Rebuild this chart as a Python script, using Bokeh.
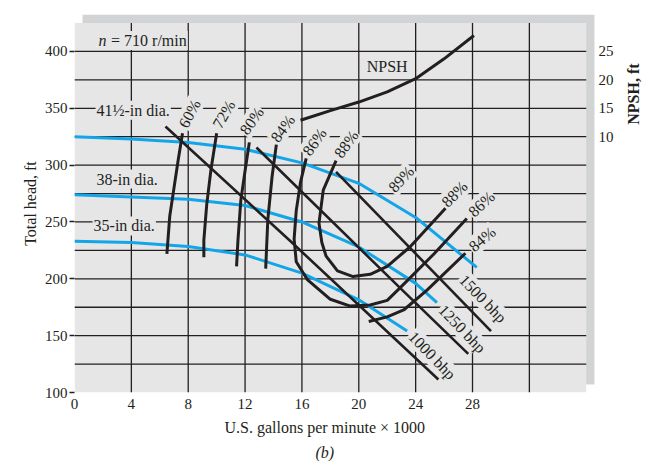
import math
from bokeh.plotting import figure
from bokeh.models import Range1d, FixedTicker, ColumnDataSource, Title
from bokeh.core.properties import value
from bokeh.embed import file_html
from bokeh.resources import INLINE

FONT = "Liberation Serif"
INK = "#231f20"
BLUE = "#12a6e8"
PANEL = "#e6e6e7"
SHADOW = "#d2d3d5"

# ---------------- data ----------------
x_ticks = [0, 4, 8, 12, 16, 20, 24, 28]
y_ticks = [100, 150, 200, 250, 300, 350, 400]
npsh_ticks = [10, 15, 20, 25]
npsh_tick_labels = ["10", "15", "20", "25"]
grid_x = [4, 8, 12, 16, 20, 24, 28, 32]
grid_y = [125, 150, 175, 200, 225, 250, 275, 300, 325, 350, 375, 400]

# impeller head curves (gpm x 1000, ft)
dia_41_gpm = [0, 4, 8, 12, 16, 20, 24, 28.3]
dia_41_head = [325, 323, 320, 314, 302, 284, 254, 210]
dia_38_gpm = [0, 4, 8, 12, 16, 20, 24, 25.5]
dia_38_head = [274, 272, 270, 264.5, 250, 228, 196, 179]
dia_35_gpm = [0, 4, 8, 12, 16, 20, 23.4]
dia_35_head = [233, 232, 228.5, 221, 205, 181.5, 154]

# efficiency curves
eff_60_gpm = [7.6, 7.3, 7.0, 6.7, 6.5]
eff_60_head = [328, 305, 280, 255, 222]
eff_72_gpm = [10.0, 9.6, 9.3, 9.1, 9.1]
eff_72_head = [328, 296, 265, 234, 219]
eff_80_gpm = [12.3, 12.0, 11.7, 11.5, 11.4]
eff_80_head = [320, 295, 269, 234, 211]
eff_84_gpm = [14.2, 13.9, 13.6, 13.45]
eff_84_head = [318, 290, 252, 209]
eff_86_gpm = [16.3, 15.9, 15.6, 15.45, 15.6, 16.4, 18.0, 19.4, 20.8, 22.0, 22.9, 25.3, 27.6]
eff_86_head = [306, 285, 260, 235, 215, 199, 182, 176, 177, 181, 192, 222, 253]
eff_88_gpm = [18.4, 17.5, 17.2, 17.4, 17.7, 18.5, 19.6, 20.8, 22.0, 23.6, 26.1]
eff_88_head = [304, 278, 249, 232, 220, 207, 202, 204, 211, 228, 262]
eff_84r_gpm = [20.7, 22.0, 23.2, 24.8, 27.5]
eff_84r_head = [162.5, 166.5, 173, 190, 222.5]

# brake horsepower lines
bhp_1000_gpm = [6.4, 15.2, 25.6]
bhp_1000_head = [334, 233, 111.5]
bhp_1250_gpm = [12.8, 22.9, 27.7]
bhp_1250_head = [315.5, 192, 134]
bhp_1500_gpm = [18.4, 29.3]
bhp_1500_head = [294, 154]

# NPSH curve (ft, right axis)
npsh_gpm = [15.9, 18, 20, 22, 24, 26, 28.1]
npsh_ft = [12.9, 14.6, 16.1, 17.9, 20.2, 23.7, 27.8]

# labels
pct_labels = ["60%", "72%", "80%", "84%", "86%", "88%", "89%", "88%", "86%", "84%"]
pct_gpm = [8.09, 10.5, 12.47, 14.65, 16.88, 19.11, 22.98, 26.73, 28.63, 28.68]
pct_head = [345.3, 344.7, 338.9, 332.2, 320.4, 318.4, 287.7, 274.6, 265.8, 235]
pct_angle = [62, 60, 55, 54, 55, 54, 47, 45, 43, 40]

dia_labels = ["41½-in dia.", "38-in dia.", "35-in dia."]
dia_lab_gpm = [1.48, 1.48, 1.27]
dia_lab_head = [348.2, 287.7, 246.5]

bhp_labels = ["1500 bhp", "1250 bhp", "1000 bhp"]
bhp_lab_gpm = [28.74, 27.28, 25.17]
bhp_lab_head = [182.5, 156, 132.6]
bhp_angle = [-46, -46, -46]

# ---------------- figure ----------------
p = figure(width=645, height=461, output_backend="svg", toolbar_location=None, tools="",
           x_range=Range1d(0, 40.17), y_range=Range1d(100, 432.5),
           min_border_left=74, min_border_right=0, min_border_top=14, min_border_bottom=40)
p.extra_y_ranges = {"npsh": Range1d(-35, 31.5)}
p.outline_line_color = None
p.background_fill_color = "white"
p.border_fill_color = "white"
p.grid.visible = False

# panel + shadow
p.quad(left=[0.563], right=[36.58], bottom=[107.0], top=[432.5], fill_color=SHADOW, line_color=None)
p.quad(left=[0], right=[36], bottom=[100], top=[425], fill_color=PANEL, line_color=None)

# grid lines
p.segment(x0=grid_x, y0=[100] * len(grid_x), x1=grid_x, y1=[425] * len(grid_x),
          line_color=INK, line_width=1.3)
p.segment(x0=[0] * len(grid_y), y0=grid_y, x1=[36] * len(grid_y), y1=grid_y,
          line_color=INK, line_width=1.3)

# axes
xa = p.xaxis[0]
xa.ticker = FixedTicker(ticks=x_ticks)
xa.axis_line_color = None
xa.major_tick_line_color = None
xa.minor_tick_line_color = None
xa.major_tick_out = 0
xa.major_tick_in = 0
xa.major_label_standoff = 6
xa.major_label_text_font = FONT
xa.major_label_text_font_size = "15px"
xa.major_label_text_color = INK

ya = p.yaxis[0]
ya.ticker = FixedTicker(ticks=y_ticks)
ya.axis_line_color = None
ya.minor_tick_line_color = None
ya.major_tick_line_color = INK
ya.major_tick_line_width = 1.3
ya.major_tick_out = 5
ya.major_tick_in = 0
ya.major_label_standoff = 2
ya.major_label_text_font = FONT
ya.major_label_text_font_size = "15px"
ya.major_label_text_color = INK
ya.axis_label = "Total head, ft"
ya.axis_label_text_font = FONT
ya.axis_label_text_font_size = "16px"
ya.axis_label_text_font_style = "normal"
ya.axis_label_text_color = INK
ya.axis_label_standoff = 3

# head curves
for gx, gy in [(dia_41_gpm, dia_41_head), (dia_38_gpm, dia_38_head), (dia_35_gpm, dia_35_head)]:
    p.line(gx, gy, line_color=BLUE, line_width=3)

# efficiency curves
for gx, gy in [(eff_60_gpm, eff_60_head), (eff_72_gpm, eff_72_head), (eff_80_gpm, eff_80_head),
               (eff_84_gpm, eff_84_head), (eff_86_gpm, eff_86_head), (eff_88_gpm, eff_88_head),
               (eff_84r_gpm, eff_84r_head)]:
    p.line(gx, gy, line_color=INK, line_width=3, line_join="round")

# bhp lines
for gx, gy in [(bhp_1000_gpm, bhp_1000_head), (bhp_1250_gpm, bhp_1250_head), (bhp_1500_gpm, bhp_1500_head)]:
    p.line(gx, gy, line_color=INK, line_width=2.6)

# NPSH
p.line(npsh_gpm, npsh_ft, y_range_name="npsh", line_color=INK, line_width=3)

# NPSH scale (right side)
p.text(x=[36.86] * len(npsh_ticks), y=npsh_ticks, text=npsh_tick_labels, y_range_name="npsh",
       text_align="left", text_baseline="middle", text_font=value(FONT),
       text_font_size="15px", text_color=INK)
p.text(x=[39.33], y=[17.5], text=["NPSH, ft"], y_range_name="npsh", angle=[math.pi / 2],
       text_align="center", text_baseline="middle", text_font=value(FONT),
       text_font_size="16px", text_font_style="bold", text_color=INK)

# text labels
common = dict(text_font=value(FONT), text_font_size="16px", text_color=INK,
              background_fill_color=PANEL, padding=1)

src_pct = ColumnDataSource(dict(x=pct_gpm, y=pct_head, text=pct_labels,
                                angle=[math.radians(a) for a in pct_angle]))
p.text(x="x", y="y", text="text", angle="angle", source=src_pct,
       text_align="center", text_baseline="middle", **common)

src_dia = ColumnDataSource(dict(x=dia_lab_gpm, y=dia_lab_head, text=dia_labels))
p.text(x="x", y="y", text="text", source=src_dia,
       text_align="left", text_baseline="middle", **common)

src_bhp = ColumnDataSource(dict(x=bhp_lab_gpm, y=bhp_lab_head, text=bhp_labels,
                                angle=[math.radians(a) for a in bhp_angle]))
p.text(x="x", y="y", text="text", angle="angle", source=src_bhp,
       text_align="center", text_baseline="middle", **common)

p.text(x=[22.0], y=[386.4], text=["NPSH"], text_align="center", text_baseline="middle", **common)
p.text(x=[1.62], y=[409.6], text=["n"], text_align="left", text_baseline="middle",
       text_font_style="italic", **common)
p.text(x=[2.5], y=[409.6], text=["= 710 r/min"], text_align="left", text_baseline="middle", **common)

# x title and panel tag below the axis
p.add_layout(Title(text="U.S. gallons per minute × 1000", align="left", offset=150,
                   text_font=FONT, text_font_size="16px", text_font_style="normal",
                   text_color=INK, standoff=10), "below")
p.add_layout(Title(text="(b)", align="left", offset=241,
                   text_font=FONT, text_font_size="16px", text_font_style="italic",
                   text_color=INK, standoff=2), "below")

open("out.html", "w").write(file_html(p, INLINE))
